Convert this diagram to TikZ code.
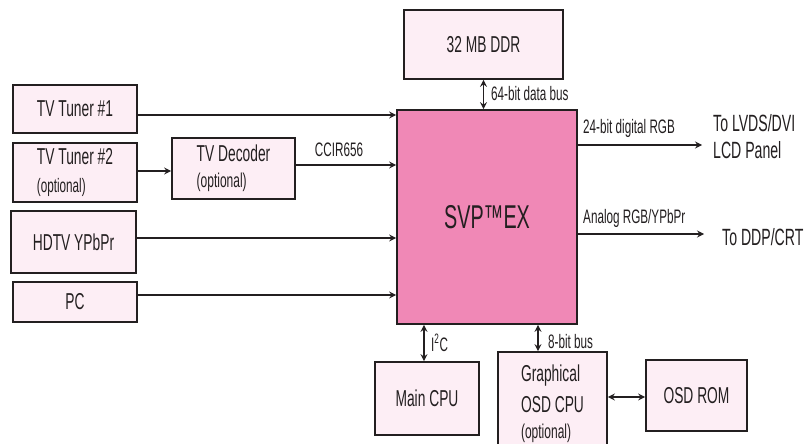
\documentclass[tikz,border=0pt]{standalone}
\usepackage{fontspec}
\setmainfont[FakeStretch=0.6]{Liberation Sans}
\usetikzlibrary{arrows.meta}
\definecolor{boxfill}{HTML}{FDEEF5}
\definecolor{svpfill}{HTML}{F088B6}
\definecolor{ink}{HTML}{231F20}
\begin{document}
\begin{tikzpicture}[x=1pt,y=-1pt,
  blk/.style={draw=ink, line width=1.8pt, fill=boxfill, rectangle, inner sep=0pt,
    font=\fontsize{23}{26}\selectfont, text=ink},
  sm/.style={font=\fontsize{19.5}{22}\selectfont, text=ink, inner sep=0pt},
  tip/.tip={Stealth[length=7pt,width=7pt,inset=2.5pt]},
  conn/.style={draw=ink, line width=1.6pt, -tip},
  bi/.style={draw=ink, line width=1.6pt, tip-tip}]
\useasboundingbox (0,0) rectangle (808,444);
\fill[white] (0,0) rectangle (808,444);

% boxes
\node[blk, minimum width=124, minimum height=48] (tuner1) at (75,109) {TV Tuner \#1};
\node[blk, minimum width=124, minimum height=59, align=left] (tuner2) at (75,172.5)
  {\raisebox{-4pt}{TV Tuner \#2}\\[2pt]{\fontsize{19.5}{22}\selectfont\raisebox{-4pt}{(optional)}}};
\node[blk, minimum width=123, minimum height=61, align=left] (dec) at (233.5,168.5)
  {TV Decoder\\{\fontsize{20}{22}\selectfont (optional)}};
\node[blk, minimum width=125, minimum height=62] (hdtv) at (73.5,242) {HDTV YPbPr};
\node[blk, minimum width=124, minimum height=40] (pc) at (75,302) {PC};
\node[blk, fill=svpfill, minimum width=180, minimum height=214,
  font=\fontsize{33}{36}\selectfont] (svp) at (487,217) {SVP™EX};
\node[blk, minimum width=159, minimum height=69] (ddr) at (483.5,44.5) {32 MB DDR};
\node[blk, minimum width=104, minimum height=73] (mcpu) at (427,398.5) {Main CPU};
\node[blk, minimum width=109, minimum height=104, align=left] (osd) at (552.5,404)
  {Graphical\\[5pt]OSD CPU\\{\fontsize{20}{22}\selectfont (optional)}};
\node[blk, minimum width=101, minimum height=71] (rom) at (696.5,395.5) {OSD ROM};

% connector levels
\coordinate (r1) at (0,115);
\coordinate (r2) at (0,171);
\coordinate (r3) at (0,165);
\coordinate (r4) at (0,238);
\coordinate (r5) at (0,295);
\coordinate (o1) at (702,145);
\coordinate (o2) at (704,234);
\coordinate (c1) at (424,0);
\coordinate (c2) at (538,0);
\coordinate (c3) at (0,397);

\draw[conn] (tuner1.east |- r1) -- (svp.west |- r1);
\draw[conn] (tuner2.east |- r2) -- (dec.west |- r2);
\draw[conn] (dec.east |- r3) -- (svp.west |- r3);
\draw[conn] (hdtv.east |- r4) -- (svp.west |- r4);
\draw[conn] (pc.east |- r5) -- (svp.west |- r5);
\draw[bi] (ddr.south) -- (svp.north -| ddr.south);
\draw[conn] (svp.east |- o1) -- (o1);
\draw[conn] (svp.east |- o2) -- (o2);
\draw[bi] (svp.south -| c1) -- (mcpu.north -| c1);
\draw[bi] (svp.south -| c2) -- (osd.north -| c2);
\draw[bi] (osd.east |- c3) -- (rom.west |- c3);

% labels
\node[sm] (lccir) at (339,150) {CCIR656};
\node[sm, anchor=west] (lbus) at (491,94) {64-bit data bus};
\node[sm, anchor=west] (lrgb) at (583,128) {24-bit digital RGB};
\node[sm, anchor=west] (lana) at (583,218) {Analog RGB/YPbPr};
\node[anchor=west, align=left, inner sep=0pt, text=ink,
  font=\fontsize{23.5}{27}\selectfont] (tlvds) at (713,137) {To LVDS/DVI\\LCD Panel};
\node[anchor=west, inner sep=0pt, text=ink, font=\fontsize{23.5}{26}\selectfont]
  (tddp) at (722,237) {To DDP/CRT};
\node[sm, anchor=west] (li2c) at (431,343) {I\textsuperscript{2}C};
\node[sm, anchor=west] (l8) at (548,342) {8-bit bus};
\end{tikzpicture}
\end{document}
